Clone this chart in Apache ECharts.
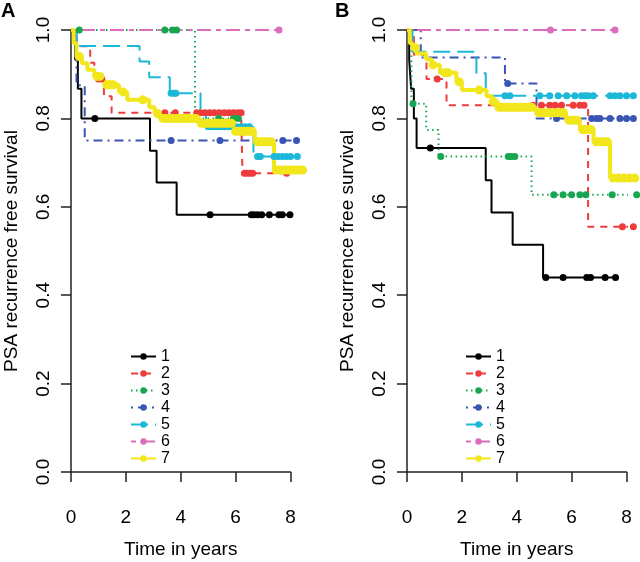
<!DOCTYPE html>
<html><head><meta charset="utf-8">
<script src="https://cdn.jsdelivr.net/npm/echarts@6/dist/echarts.min.js"></script>
<style>html,body{margin:0;padding:0;background:#fff}#c{width:640px;height:562px}</style>
</head><body><div id="c"></div>
<script>
// ---------- data ----------
const groups = ['1', '2', '3', '4', '5', '6', '7'];
const panelLabels = ['A', 'B'];
const xTitle = 'Time in years';
const yTitle = 'PSA recurrence free survival';

// Panel A : event (step) times, survival after step, censor times
const a1Time = [0, 0.15, 0.25, 0.38, 2.88, 3.12, 3.85];
const a1Surv = [1, 0.933, 0.867, 0.8, 0.727, 0.655, 0.582];
const a1Cens = [0.87, 5.07, 6.57, 6.67, 6.8, 6.95, 7.23, 7.58, 7.7, 7.98];

const a2Time = [0, 0.2, 0.7, 0.85, 1.2, 1.48, 6.25];
const a2Surv = [1, 0.963, 0.926, 0.889, 0.85, 0.813, 0.676];
const a2Cens = [1.0, 1.12, 3.42, 3.8, 4.58, 4.72, 4.88, 5.05, 5.22, 5.4, 5.58, 5.75, 5.92, 6.08, 6.2, 6.32, 6.42, 6.52, 6.62, 7.86];

const a3Time = [0, 4.52];
const a3Surv = [1, 0.8];
const a3Cens = [0.3, 3.42, 3.7, 3.85, 5.38, 5.92, 6.1];

const a4Time = [0, 0.2, 0.5];
const a4Surv = [1, 0.875, 0.75];
const a4Cens = [3.65, 5.43, 7.72, 8.22];

const a5Time = [0, 0.2, 2.5, 2.85, 3.6, 4.72, 4.92, 6.65];
const a5Surv = [1, 0.964, 0.929, 0.893, 0.857, 0.82, 0.781, 0.714];
const a5Cens = [3.65, 3.75, 3.82, 5.0, 5.15, 5.3, 5.45, 5.6, 5.75, 5.9, 6.05, 6.2, 6.35, 6.5, 6.8, 6.9, 7.4, 7.55, 7.7, 7.85, 8.0, 8.25];

const a6Time = [0];
const a6Surv = [1];
const a6Cens = [7.58];

const a7Time = [0, 0.1, 0.2, 0.4, 0.6, 0.85, 1.1, 1.25, 1.75, 2.05, 2.85, 3.05, 3.25, 4.68, 5.95, 6.7, 7.4];
const a7Surv = [1, 0.97, 0.94, 0.925, 0.91, 0.895, 0.885, 0.876, 0.86, 0.842, 0.825, 0.811, 0.8, 0.789, 0.771, 0.747, 0.683];
const a7Cens = [0.3, 0.95, 1.05, 1.3, 1.38, 1.45, 1.55, 1.9, 2.62, 3.15,
  3.35, 3.45, 3.55, 3.65, 3.75, 3.85, 3.95, 4.05, 4.15, 4.25, 4.35, 4.45, 4.55,
  4.75, 4.85, 4.95, 5.05, 5.15, 5.25, 5.35, 5.45, 5.55, 5.65, 5.75, 5.85,
  6.0, 6.1, 6.2, 6.3, 6.4, 6.5, 6.6,
  6.8, 6.9, 7.0, 7.1, 7.2, 7.3,
  7.48, 7.6, 7.72, 7.84, 7.96, 8.08, 8.2, 8.32, 8.44];

// Panel B
const b1Time = [0, 0.08, 0.15, 0.25, 0.35, 2.87, 3.08, 3.85, 4.96];
const b1Surv = [1, 0.933, 0.867, 0.8, 0.733, 0.66, 0.587, 0.514, 0.44];
const b1Cens = [0.85, 5.06, 5.69, 6.55, 6.69, 7.22, 7.6];

const b2Time = [0, 0.25, 0.71, 1.44, 6.6];
const b2Surv = [1, 0.944, 0.889, 0.83, 0.555];
const b2Cens = [1.1, 4.6, 4.9, 5.2, 5.4, 5.63, 6.06, 6.3, 6.45, 7.85, 8.25];

const b3Time = [0, 0.16, 0.7, 1.15, 4.54];
const b3Surv = [1, 0.833, 0.774, 0.714, 0.627];
const b3Cens = [0.22, 1.23, 3.69, 3.8, 3.93, 5.35, 5.69, 6.0, 6.3, 6.52, 7.48, 8.37];

const b4Time = [0, 0.5, 3.57, 4.72];
const b4Surv = [1, 0.938, 0.879, 0.8];
const b4Cens = [3.67, 5.45, 6.73, 6.91, 7.03, 7.4, 7.76, 8.0, 8.25];

const b5Time = [0, 0.2, 2.53, 2.87];
const b5Surv = [1, 0.951, 0.902, 0.851];
const b5Cens = [3.57, 3.75, 4.84, 5.2, 5.51, 5.82, 6.12, 6.36, 6.49, 6.61, 6.79, 7.4, 7.58, 7.76, 8.0, 8.25];

const b6Time = [0];
const b6Surv = [1];
const b6Cens = [5.23, 7.58];

const b7Time = [0, 0.1, 0.2, 0.35, 0.7, 0.9, 1.2, 1.8, 2.0, 2.9, 3.1, 3.3, 4.7, 5.8, 6.3, 6.8, 7.4];
const b7Surv = [1, 0.97, 0.96, 0.947, 0.934, 0.921, 0.903, 0.883, 0.864, 0.85, 0.838, 0.825, 0.813, 0.796, 0.775, 0.747, 0.665];
const b7Cens = [0.3, 0.95, 1.38, 1.5, 1.9, 2.63, 3.14,
  3.35, 3.45, 3.55, 3.65, 3.75, 3.85, 3.95, 4.05, 4.15, 4.25, 4.35, 4.45, 4.55,
  4.8, 4.9, 5.0, 5.1, 5.2, 5.3, 5.4, 5.5, 5.6, 5.7,
  5.9, 6.0, 6.1, 6.2,
  6.4, 6.5, 6.6, 6.7,
  6.9, 7.0, 7.1, 7.2, 7.3,
  7.52, 7.72, 7.9, 8.1, 8.3];

// ---------- styles ----------
const FONT = '"Liberation Sans", Arial, Helvetica, sans-serif';
const colors = ['#000000', '#ee3b3b', '#16a650', '#3a55b4', '#1bb8d8', '#dc6cbc', '#f2e71c'];
const dashes = ['solid', [7, 6], [1.5, 3.5], [2, 5, 9, 5], [17, 7], [5, 5, 14, 5], 'solid'];
const widths = [2, 2, 2, 2, 2, 2, 4];
const symSizes = [7, 7, 7, 7, 7, 7, 9];

function kmData(times, surv, cens) {
  const pts = times.map((t, i) => ({ value: [t, surv[i]], symbol: 'none', c: 0 }));
  cens.forEach(c => {
    let s = surv[0];
    for (let i = 0; i < times.length; i++) if (times[i] <= c) s = surv[i];
    pts.push({ value: [c, s], symbol: 'circle', c: 1 });
  });
  pts.sort((a, b) => (a.value[0] - b.value[0]) || (a.c - b.c));
  return pts.map(p => ({ value: p.value, symbol: p.symbol }));
}

const panels = [
  [[a1Time, a1Surv, a1Cens], [a2Time, a2Surv, a2Cens], [a3Time, a3Surv, a3Cens], [a4Time, a4Surv, a4Cens],
   [a5Time, a5Surv, a5Cens], [a6Time, a6Surv, a6Cens], [a7Time, a7Surv, a7Cens]],
  [[b1Time, b1Surv, b1Cens], [b2Time, b2Surv, b2Cens], [b3Time, b3Surv, b3Cens], [b4Time, b4Surv, b4Cens],
   [b5Time, b5Surv, b5Cens], [b6Time, b6Surv, b6Cens], [b7Time, b7Surv, b7Cens]]
];

const gridLefts = [71, 407];
const legendLefts = [130, 465];
const titleLefts = [1, 335];

const series = [];
panels.forEach((panel, p) => {
  panel.forEach((g, i) => {
    series.push({
      type: 'line', name: groups[i], xAxisIndex: p, yAxisIndex: p,
      data: kmData(g[0], g[1], g[2]),
      step: 'end', symbol: 'circle', symbolSize: symSizes[i], showAllSymbol: true,
      clip: false, animation: false, silent: true,
      lineStyle: { color: colors[i], width: widths[i], type: dashes[i] },
      itemStyle: { color: colors[i], borderWidth: 0 },
      emphasis: { disabled: true }
    });
  });
});

const axisLine = { show: true, lineStyle: { color: '#222', width: 1.5 } };
const option = {
  animation: false,
  backgroundColor: '#fff',
  title: panelLabels.map((t, p) => ({
    text: t, left: titleLefts[p], top: 1, padding: 0,
    textStyle: { fontSize: 20, fontWeight: 'bold', fontFamily: FONT, color: '#000' }
  })),
  grid: gridLefts.map(l => ({ left: l, top: 30, width: 219.5, height: 442, containLabel: false, outerBoundsMode: 'none' })),
  xAxis: gridLefts.map((l, p) => ({
    type: 'value', gridIndex: p, min: 0, max: 8, interval: 2, offset: 18,
    axisLine: axisLine, axisTick: { show: true, length: 10, lineStyle: { color: '#222', width: 1.5 } },
    axisLabel: { fontSize: 19, margin: 18, color: '#000', fontFamily: FONT },
    splitLine: { show: false },
    name: xTitle, nameLocation: 'middle', nameGap: 50,
    nameTextStyle: { fontSize: 19, color: '#000', fontFamily: FONT }
  })),
  yAxis: gridLefts.map((l, p) => ({
    type: 'value', gridIndex: p, min: 0, max: 1, interval: 0.2,
    axisLine: axisLine, axisTick: { show: true, length: 10, lineStyle: { color: '#222', width: 1.5 } },
    axisLabel: { fontSize: 19, margin: 18, rotate: 90, color: '#000', fontFamily: FONT, formatter: v => v.toFixed(1) },
    splitLine: { show: false },
    name: yTitle, nameLocation: 'middle', nameGap: 50, nameRotate: 90,
    nameTextStyle: { fontSize: 19, color: '#000', fontFamily: FONT }
  })),
  legend: legendLefts.map(l => ({
    data: groups, orient: 'vertical', left: l, top: 348, padding: 0,
    itemWidth: 25, itemHeight: 8, itemGap: 0, selectedMode: false,
    lineStyle: { width: 2 },
    textStyle: { fontSize: 16, lineHeight: 17, color: '#000', fontFamily: FONT }
  })),
  series: series
};

const chart = echarts.init(document.getElementById('c'), null, { renderer: 'canvas' });
chart.setOption(option);
</script>
</body></html>
